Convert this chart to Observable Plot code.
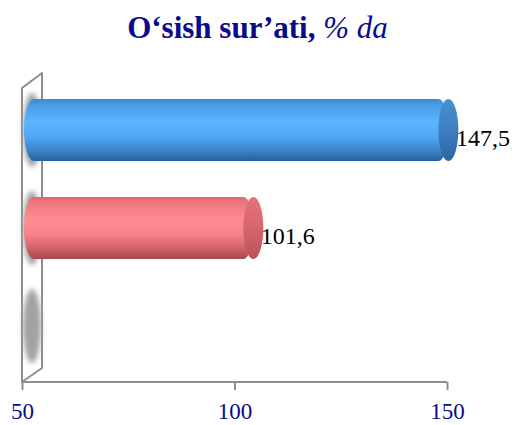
<!DOCTYPE html>
<html><head><meta charset="utf-8">
<script src="https://cdn.jsdelivr.net/npm/d3@7"></script>
<script src="https://cdn.jsdelivr.net/npm/@observablehq/plot@0.6"></script>
<style>
body{margin:0;background:#fff;}
#title{height:60px;font-family:"Liberation Serif","Times New Roman",serif;font-size:31px;color:#0a0a8c;text-align:center;line-height:56px;font-weight:bold;white-space:nowrap;}
#title i{font-weight:normal;}
</style></head><body>
<div id="title">O‘sish sur’ati, <i>% da</i></div>
<div id="chart"></div>
<script>
// ---- data ----
const categories = ["1", "2", "3"];
const values = [147.5, 101.6, null];
const valueLabels = ["147,5", "101,6", ""];
const bodyFills = ["url(#cylBlue)", "url(#cylRed)", null];
const capFills = ["url(#capBlue)", "url(#capRed)", null];
const xTicks = [50, 100, 150];
const xDomain = [50, 150];

const data = categories.map((c, i) => ({cat: c, value: values[i], label: valueLabels[i], body: bodyFills[i], cap: capFills[i]}));
const bars = data.filter(d => d.value != null);

const DX = 12, DY = -7;          // depth offset of the 3D bars
const WALL_DX = 20, WALL_DY = -15;
const GRAY = "#8e8e8e";

function defs() {
  const g = d3.create("svg:g");
  const d = g.append("defs");
  const grad = (id, stops) => {
    const lg = d.append("linearGradient").attr("id", id).attr("x1", 0).attr("y1", 0).attr("x2", 0).attr("y2", 1);
    stops.forEach(([o, c]) => lg.append("stop").attr("offset", o).attr("stop-color", c));
  };
  grad("cylBlue", [[0, "#3c88d2"], [0.12, "#4aa0ea"], [0.38, "#5cb6fe"], [0.62, "#4ea6f0"], [0.85, "#3a7fc4"], [1, "#24609e"]]);
  grad("cylRed", [[0, "#de6870"], [0.12, "#f07a82"], [0.38, "#ff8c94"], [0.62, "#f48088"], [0.85, "#cc5e66"], [1, "#a84850"]]);
  grad("capBlue", [[0, "#4a8ed0"], [0.5, "#3e7fc0"], [1, "#2d64a2"]]);
  grad("capRed", [[0, "#e4747c"], [0.5, "#d6656d"], [1, "#b8525a"]]);
  d.append("filter").attr("id", "blur").attr("x", "-100%").attr("y", "-50%").attr("width", "300%").attr("height", "200%")
    .append("feGaussianBlur").attr("stdDeviation", 2.5);
  return g.node();
}

function wall(index, scales, values, dims) {
  const x0 = scales.x(xDomain[0]);
  const x1 = scales.x(xDomain[1]);
  const top = dims.marginTop, bottom = dims.height - dims.marginBottom;
  const g = d3.create("svg:g");
  g.append("polygon")
    .attr("points", `${x0},${top} ${x0 + WALL_DX},${top + WALL_DY} ${x0 + WALL_DX},${bottom + WALL_DY + 1} ${x0},${bottom}`)
    .attr("fill", "#fff").attr("stroke", GRAY).attr("stroke-width", 2).attr("stroke-linejoin", "round");
  g.append("line").attr("x1", x0).attr("x2", x1).attr("y1", bottom).attr("y2", bottom)
    .attr("stroke", GRAY).attr("stroke-width", 2);
  return g.node();
}

const chart = Plot.plot({
  width: 515,
  height: 365,
  marginLeft: 22,
  marginRight: 68,
  marginTop: 28,
  marginBottom: 43,
  x: {domain: xDomain},
  y: {domain: categories, paddingInner: 0.367, paddingOuter: 0.183, axis: null},
  color: {type: "identity"},
  marks: [
    defs,
    wall,
    Plot.barX(data, {x1: () => xDomain[0], x2: () => xDomain[0], y: "cat", insetLeft: -9, insetRight: -9, insetTop: -6, insetBottom: -6, rx: 9, ry: 60, dx: WALL_DX / 2, dy: -7, fill: "#a2a2a2", fillOpacity: 1}),
    Plot.barX(bars, {x1: () => xDomain[0], x2: "value", y: "cat", fill: "body", insetLeft: -10, rx: 10, ry: 60, dx: DX, dy: DY}),
    Plot.barX(bars, {x1: "value", x2: "value", y: "cat", fill: "cap", insetLeft: -10, insetRight: -10, rx: 10, ry: 60, dx: DX, dy: DY}),
    Plot.text(bars, {x: "value", y: "cat", text: "label", dx: DX + 7, dy: 1, textAnchor: "start", fontSize: 24, fontFamily: "Liberation Serif, Times New Roman, serif", fill: "#000"}),
    Plot.axisX({ticks: xTicks, tickFormat: d => String(d), tickSize: 8, tickPadding: 12, stroke: GRAY, strokeWidth: 2, fill: "#0a0a8c", fontSize: 23, fontFamily: "Liberation Serif, Times New Roman, serif", label: null})
  ]
});
const barGroups = d3.select(chart).selectAll('g[aria-label="bar"]').nodes();
if (barGroups.length) d3.select(barGroups[0]).attr("filter", "url(#blur)");
d3.select(chart).style("overflow", "visible");
document.getElementById("chart").appendChild(chart);
</script>
</body></html>
